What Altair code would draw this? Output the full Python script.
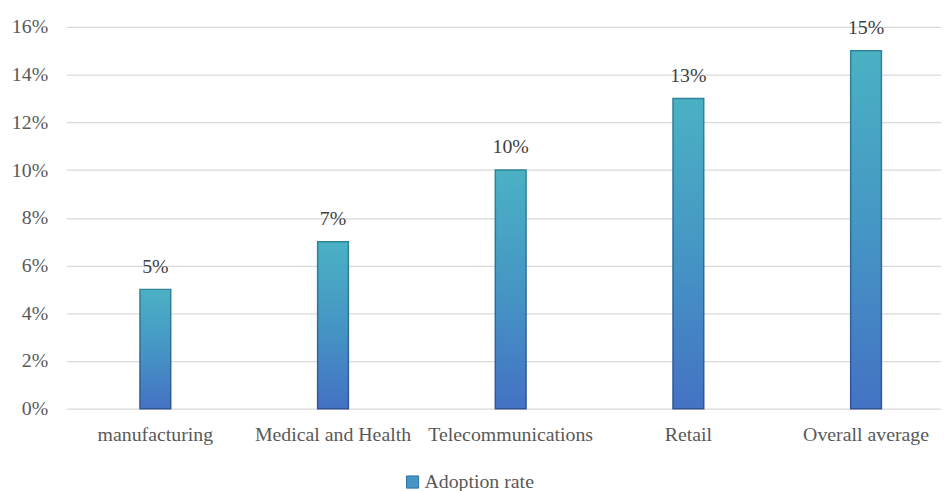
import altair as alt
import pandas as pd

categories = ["manufacturing", "Medical and Health", "Telecommunications", "Retail", "Overall average"]
values = [5, 7, 10, 13, 15]
labels = ["5%", "7%", "10%", "13%", "15%"]
series_name = "Adoption rate"

df = pd.DataFrame({
    "category": categories,
    "value": [v / 100 for v in values],
    "label": labels,
    "series": [series_name] * len(categories),
})

FONT = "Times New Roman, Liberation Serif, serif"
FS = 20

fill_grad = alt.Gradient(
    gradient="linear",
    stops=[
        alt.GradientStop(offset=0, color="#4BB1C4"),
        alt.GradientStop(offset=0.5, color="#4596C4"),
        alt.GradientStop(offset=1, color="#4472C4"),
    ],
    x1=0, x2=0, y1=0, y2=1,
)
stroke_grad = alt.Gradient(
    gradient="linear",
    stops=[
        alt.GradientStop(offset=0, color="#2F8497"),
        alt.GradientStop(offset=1, color="#2F5597"),
    ],
    x1=0, x2=0, y1=0, y2=1,
)

x_enc = alt.X(
    "category:N",
    sort=categories,
    scale=alt.Scale(range=[0, 896], paddingInner=0.827, paddingOuter=0.4135),
    axis=alt.Axis(
        title=None, labelAngle=0, domain=False, ticks=False,
        labelFont=FONT, labelFontSize=FS, labelColor="#595959", labelPadding=16,
    ),
)
y_enc = alt.Y(
    "value:Q",
    scale=alt.Scale(domain=[0, 0.16], nice=False),
    axis=alt.Axis(
        title=None, format=".0%", values=[i / 100 for i in range(0, 17, 2)],
        domain=False, ticks=False, gridColor="#D9D9D9", gridWidth=1.3,
        labelFont=FONT, labelFontSize=FS, labelColor="#595959", labelPadding=19,
    ),
)

bars = alt.Chart(df).mark_bar(fill=fill_grad, stroke=stroke_grad, strokeWidth=1.5).encode(
    x=x_enc, y=y_enc,
)

legend_layer = alt.Chart(df).mark_square(opacity=0, size=0).encode(
    x=alt.X("category:N", sort=categories),
    y=alt.Y("value:Q"),
    color=alt.Color(
        "series:N",
        scale=alt.Scale(range=["#4596C4"]),
        legend=alt.Legend(
            title=None, orient="none", legendX=339, legendY=449,
            symbolType="square", symbolSize=150,
            symbolOpacity=1, symbolStrokeColor="#2F6FA0", symbolStrokeWidth=1,
            labelFont=FONT, labelFontSize=FS, labelColor="#595959",
            labelOffset=2,
        ),
    ),
)

text = alt.Chart(df).mark_text(
    dy=-23, font=FONT, fontSize=FS, color="#404040",
).encode(
    x=alt.X("category:N", sort=categories),
    y=alt.Y("value:Q"),
    text="label:N",
)

chart = alt.layer(bars, text, legend_layer).properties(
    width=882, height=385,
    padding={"left": 59, "top": 17, "right": 0, "bottom": 88},
    autosize=alt.AutoSizeParams(type="none"),
).configure_view(stroke=None)

chart.save("out.html", embed_options={"renderer": "svg", "actions": False})
